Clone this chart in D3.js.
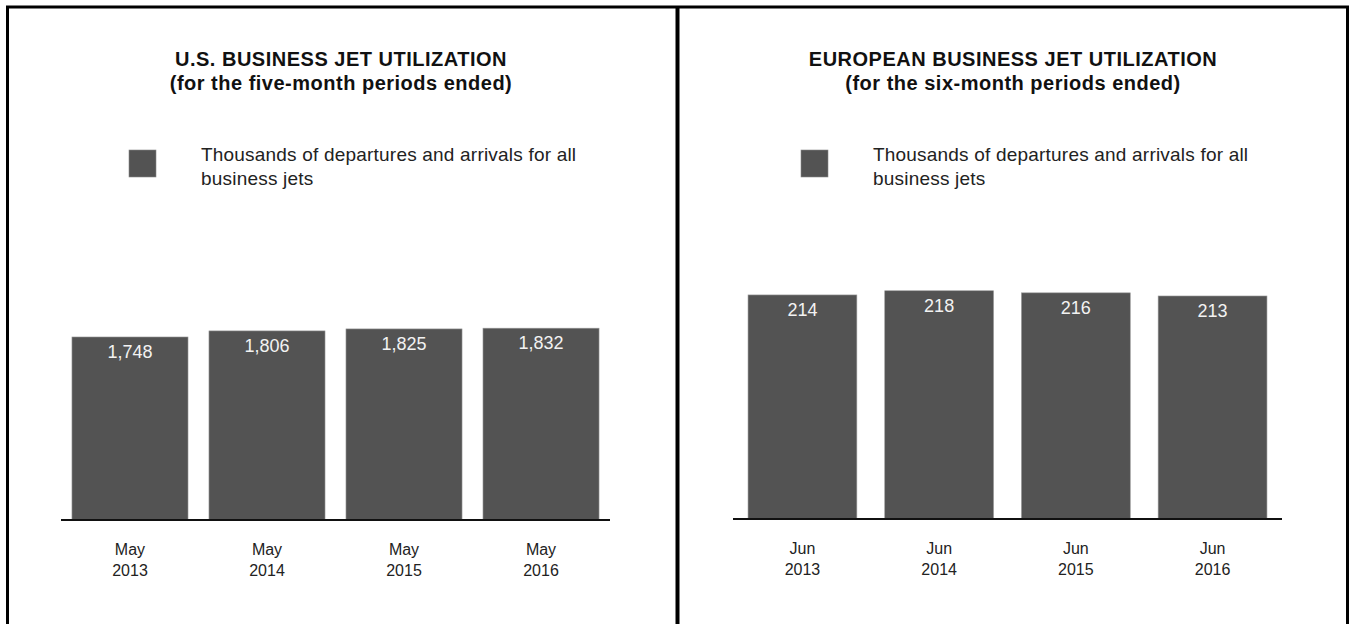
<!DOCTYPE html>
<html>
<head>
<meta charset="utf-8">
<script src="https://cdn.jsdelivr.net/npm/d3@7"></script>
<style>
    body { margin: 0; background: #fff; }
    text { font-family: Arial, "Liberation Sans", Helvetica, sans-serif; }
    .title { font-weight: bold; font-size: 20px; letter-spacing: 0.5px; fill: #111; }
    .legend-text { font-size: 19px; letter-spacing: 0.2px; fill: #222; }
    .value { font-size: 18px; fill: #f2f2f2; }
    .tick-label { font-size: 16px; fill: #222; }
</style>
</head>
<body>
<svg id="chart"></svg>
<script>
// data
const usCategories = ["May 2013", "May 2014", "May 2015", "May 2016"];
const usValues = [1748, 1806, 1825, 1832];
const euCategories = ["Jun 2013", "Jun 2014", "Jun 2015", "Jun 2016"];
const euValues = [214, 218, 216, 213];
const legendLabel = ["Thousands of departures and arrivals for all", "business jets"];

const svgWidth = 1349,
    svgHeight = 624,
    barColor = "#535353";

let svg = d3.select("#chart")
    .attr("width", svgWidth)
    .attr("height", svgHeight);

// frame: outer border and divider
svg.append("path")
    .attr("d", "M7.5,640 V7 H1347.5 V640")
    .attr("fill", "none")
    .attr("stroke", "#000")
    .attr("stroke-width", 3);
svg.append("line")
    .attr("x1", 677.5).attr("x2", 677.5)
    .attr("y1", 6).attr("y2", 640)
    .attr("stroke", "#000")
    .attr("stroke-width", 4);

// panel settings
const panels = [
    {
        title: ["U.S. BUSINESS JET UTILIZATION", "(for the five-month periods ended)"],
        center: 341,
        categories: usCategories,
        values: usValues,
        format: d3.format(","),
        xRange: [61, 610],
        paddingInner: 0.153,
        paddingOuter: 0.08,
        yMax: 2000,
        legendX: 129,
        baseline: 520
    },
    {
        title: ["EUROPEAN BUSINESS JET UTILIZATION", "(for the six-month periods ended)"],
        center: 1013,
        categories: euCategories,
        values: euValues,
        format: d3.format("d"),
        xRange: [733, 1282],
        paddingInner: 0.204,
        paddingOuter: 0.11,
        yMax: 200,
        legendX: 801,
        baseline: 519
    }
];

panels.forEach(drawPanel);

function drawPanel(p) {
    let g = svg.append("g");

    // title
    g.selectAll("text.title")
        .data(p.title)
        .join("text")
        .attr("class", "title")
        .attr("x", p.center)
        .attr("y", (d, i) => 66 + i * 24)
        .attr("text-anchor", "middle")
        .text((d) => d);

    // legend
    g.append("rect")
        .attr("x", p.legendX)
        .attr("y", 150)
        .attr("width", 27)
        .attr("height", 27)
        .attr("fill", barColor)
        .attr("stroke", "#888")
        .attr("stroke-width", 0.6);
    g.selectAll("text.legend-text")
        .data(legendLabel)
        .join("text")
        .attr("class", "legend-text")
        .attr("x", p.legendX + 72)
        .attr("y", (d, i) => 161 + i * 24)
        .text((d) => d);

    // scales
    let xScale = d3.scaleBand()
        .domain(p.categories)
        .range(p.xRange)
        .paddingInner(p.paddingInner)
        .paddingOuter(p.paddingOuter);
    let yScale = d3.scaleLinear()
        .domain([0, p.yMax])
        .range([p.baseline, p.baseline - 209.4]);

    let data = p.categories.map((c, i) => ({ cat: c, value: p.values[i] }));

    // bars
    g.selectAll("rect.bar")
        .data(data)
        .join("rect")
        .attr("class", "bar")
        .attr("x", (d) => xScale(d.cat))
        .attr("y", (d) => yScale(d.value))
        .attr("width", xScale.bandwidth())
        .attr("height", (d) => p.baseline - yScale(d.value))
        .attr("fill", barColor)
        .attr("stroke", "#999")
        .attr("stroke-width", 0.6);

    // value labels
    g.selectAll("text.value")
        .data(data)
        .join("text")
        .attr("class", "value")
        .attr("x", (d) => xScale(d.cat) + xScale.bandwidth() / 2)
        .attr("y", (d) => yScale(d.value) + 21)
        .attr("text-anchor", "middle")
        .text((d) => p.format(d.value));

    // x axis
    let xAxis = g.append("g")
        .attr("transform", `translate(0, ${p.baseline})`)
        .call(d3.axisBottom(xScale).tickSize(0).tickFormat(""));
    xAxis.select(".domain")
        .attr("d", `M${p.xRange[0]},0H${p.xRange[1]}`)
        .attr("stroke", "#111")
        .attr("stroke-width", 2);

    // category labels on two lines
    let labels = g.selectAll("text.tick-label")
        .data(p.categories)
        .join("text")
        .attr("class", "tick-label")
        .attr("x", (d) => xScale(d) + xScale.bandwidth() / 2)
        .attr("y", p.baseline + 35)
        .attr("text-anchor", "middle");
    labels.selectAll("tspan")
        .data((d) => d.split(" "))
        .join("tspan")
        .attr("x", function () { return this.parentNode.getAttribute("x"); })
        .attr("dy", (d, i) => i === 0 ? 0 : 21)
        .text((d) => d);
}
</script>
</body>
</html>
